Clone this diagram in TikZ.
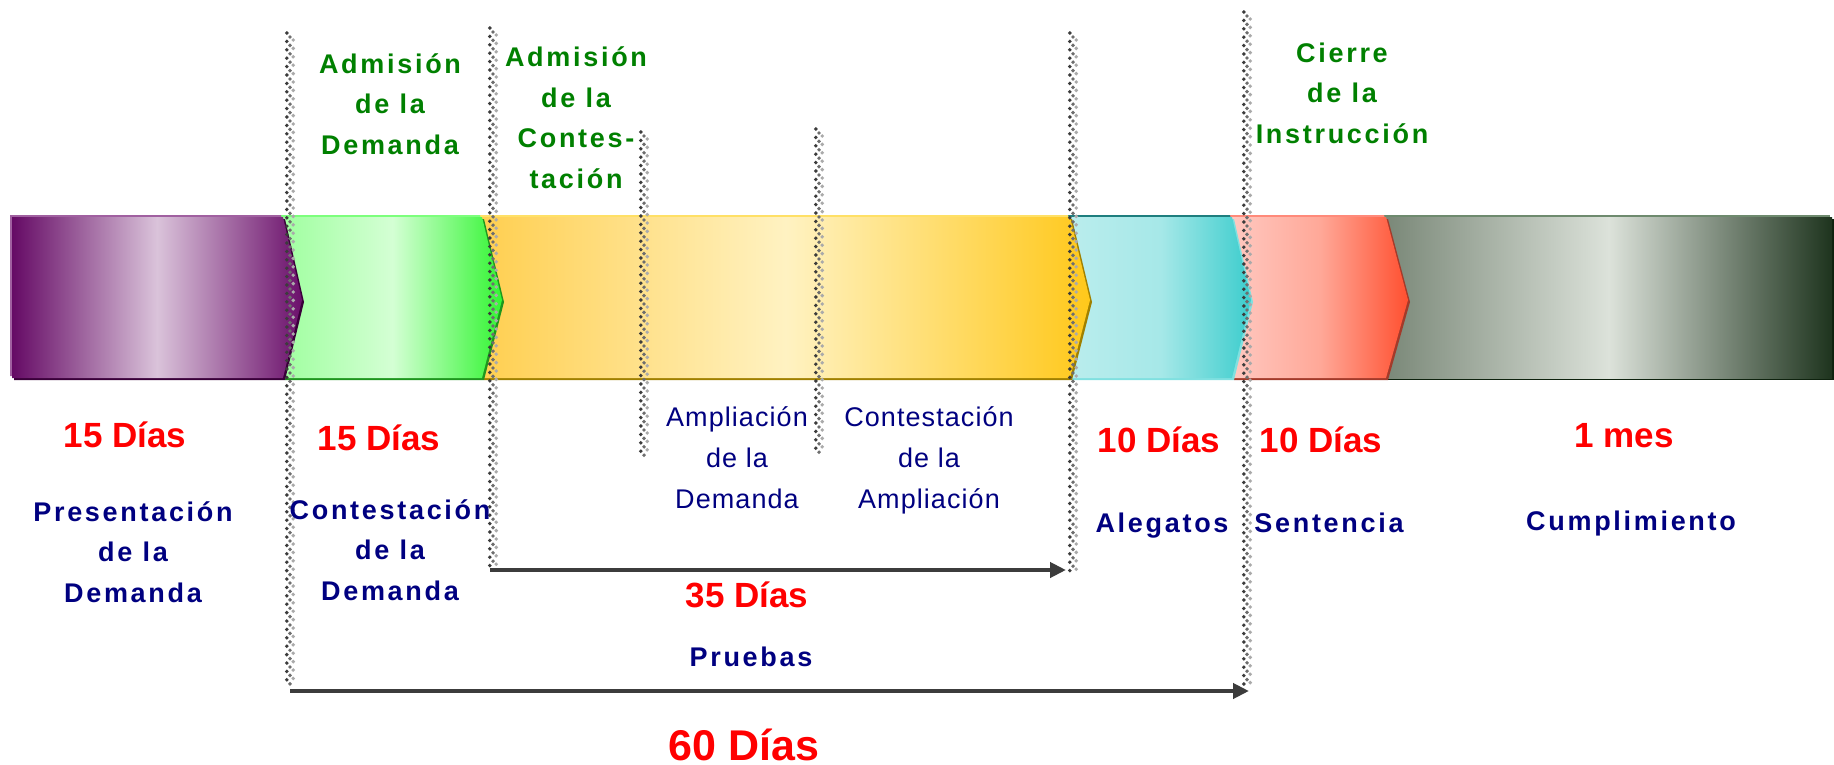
\documentclass[tikz,border=0pt]{standalone}
\usepackage{fontspec}
\setmainfont{Liberation Sans}
\newfontfamily\spacedfont[LetterSpace=10]{Liberation Sans}
\newfontfamily\lightspacedfont[LetterSpace=4]{Liberation Sans}
\usetikzlibrary{arrows.meta}
\definecolor{redT}{RGB}{255,0,0}
\definecolor{navyT}{RGB}{0,0,128}
\definecolor{greenT}{RGB}{0,128,0}
\definecolor{ropeD}{RGB}{60,60,60}
\definecolor{ropeM}{RGB}{110,110,110}
\definecolor{ropeL}{RGB}{170,170,170}
\definecolor{arrowC}{RGB}{60,60,60}
% segment colours: light edge, dark edge, left, middle, right
\definecolor{gyL}{RGB}{110,138,110}\definecolor{gyD}{RGB}{14,34,14}
\definecolor{gyA}{RGB}{122,136,120}\definecolor{gyB}{RGB}{220,226,218}\definecolor{gyC}{RGB}{30,52,30}
\definecolor{rdL}{RGB}{255,138,122}\definecolor{rdD}{RGB}{163,58,42}
\definecolor{rdA}{RGB}{255,200,192}\definecolor{rdB}{RGB}{255,168,152}\definecolor{rdC}{RGB}{255,80,48}
\definecolor{cyL}{RGB}{30,126,126}\definecolor{cyD}{RGB}{128,224,224}
\definecolor{cyA}{RGB}{186,237,237}\definecolor{cyB}{RGB}{166,232,232}\definecolor{cyC}{RGB}{60,205,205}
\definecolor{ywL}{RGB}{255,224,102}\definecolor{ywD}{RGB}{160,128,0}
\definecolor{ywA}{RGB}{255,207,80}\definecolor{ywB}{RGB}{255,242,194}\definecolor{ywC}{RGB}{255,200,26}
\definecolor{gnL}{RGB}{124,255,124}\definecolor{gnD}{RGB}{30,150,30}
\definecolor{gnA}{RGB}{160,255,160}\definecolor{gnB}{RGB}{212,255,212}\definecolor{gnC}{RGB}{51,245,51}
\definecolor{ppL}{RGB}{160,96,160}\definecolor{ppD}{RGB}{58,0,58}
\definecolor{ppA}{RGB}{101,10,101}\definecolor{ppB}{RGB}{218,195,218}\definecolor{ppC}{RGB}{107,16,107}
\newcommand\chevseg[4]{% #1 left x, #2 shoulder x, #3 tip x, #4 colour prefix
  \fill[#4L] (#1,215) -- (#2,215) -- (#3,298) -- (#2,376) -- (#1,376) -- cycle;
  \begin{scope}[shift={(4,4)}]
    \fill[#4D] (#1,215) -- (#2,215) -- (#3,298) -- (#2,376) -- (#1,376) -- cycle;
  \end{scope}
  \begin{scope}[shift={(2,2)}]
    \path[left color=#4A, right color=#4C, middle color=#4B] (#1,215) -- (#2,215) -- (#3,298) -- (#2,376) -- (#1,376) -- cycle;
  \end{scope}
}
\newcommand\ropeline[3]{%
  \draw[ropedark] (#1-3.2,#2) -- (#1-3.2,#3);
  \draw[ropemid] (#1,#2) -- (#1,#3);
  \draw[ropelight] (#1+3.2,#2) -- (#1+3.2,#3);
}
\tikzset{
  ropedot/.style={line width=3.9, line cap=round, dash pattern=on 0pt off 8.4pt},
  ropedark/.style={ropedot, draw=ropeD},
  ropemid/.style={ropedot, draw=ropeM, dash phase=4.4pt},
  ropelight/.style={ropedot, draw=ropeL, dash phase=1.4pt},
  spanarrow/.style={draw=arrowC, line width=4, -{Triangle[length=16pt,width=15pt]}},
  daystxt/.style={text=redT, font=\bfseries\fontsize{35}{42}\selectfont, anchor=base, inner sep=0pt},
  bigdaystxt/.style={text=redT, font=\bfseries\fontsize{43}{50}\selectfont, anchor=base, inner sep=0pt},
  phasetxt/.style={text=navyT, font=\spacedfont\bfseries\fontsize{27}{40.5}\selectfont, align=center, anchor=base, inner sep=0pt},
  subtxt/.style={text=navyT, font=\lightspacedfont\fontsize{27}{41}\selectfont, align=center, anchor=base, inner sep=0pt},
  eventtxt/.style={text=greenT, font=\spacedfont\bfseries\fontsize{27}{40.5}\selectfont, align=center, anchor=base, inner sep=0pt},
}
\begin{document}
\begin{tikzpicture}[x=1pt,y=-1pt]
\useasboundingbox[fill=white] (0,0) rectangle (1834,765);
% bar segments, right to left
\fill[gyL] (1384,215) rectangle (1830,376);
\fill[gyD] (1388,219) rectangle (1834,380);
\path[left color=gyA, right color=gyC, middle color=gyB] (1386,217) rectangle (1832,378);
\chevseg{1230}{1384}{1406}{rd}
\chevseg{1068}{1230}{1249}{cy}
\chevseg{480}{1068}{1088}{yw}
\chevseg{281}{480}{500}{gn}
\chevseg{10}{281}{300}{pp}
% dotted separators
\ropeline{290}{33}{684}
\ropeline{493}{28}{567}
\ropeline{644}{132}{458}
\ropeline{819}{129}{455}
\ropeline{1073}{33}{573}
\ropeline{1247}{12}{684}
% span arrows
\coordinate (s35) at (490,570);
\coordinate (e35) at (1066,570);
\coordinate (s60) at (290,691);
\coordinate (e60) at (1249,691);
\draw[spanarrow] (s35) -- (e35);
\draw[spanarrow] (s60) -- (e60);
% event labels (top); multi-line nodes sit on the baseline of their last line
\node[eventtxt] (admdem) at (390,154) {Admisión\\de la\\Demanda};
\node[eventtxt] (admcon) at (576,188) {Admisión\\de la\\Contes-\\tación};
\node[eventtxt] (cierre) at (1342,143) {Cierre\\de la\\Instrucción};
% durations
\node[daystxt] (d1) at (125,447) {15 Días};
\node[daystxt] (d2) at (379,450) {15 Días};
\node[daystxt] (d4) at (1159,452) {10 Días};
\node[daystxt] (d5) at (1321,452) {10 Días};
\node[daystxt] (d6) at (1624,447) {1 mes};
\node[daystxt] (d35) at (747,607) {35 Días};
\node[bigdaystxt] (d60) at (744,760) {60 Días};
% phases
\node[phasetxt] (p1) at (133,602) {Presentación\\de la\\Demanda};
\node[phasetxt] (p2) at (390,600) {Contestación\\de la\\Demanda};
\node[phasetxt] (p4) at (1162,532) {Alegatos};
\node[phasetxt] (p5) at (1329,532) {Sentencia};
\node[phasetxt] (p6) at (1631,530) {Cumplimiento};
\node[phasetxt] (pr) at (751,666) {Pruebas};
\node[subtxt] (amp) at (737,508) {Ampliación\\de la\\Demanda};
\node[subtxt] (camp) at (929,508) {Contestación\\de la\\Ampliación};
\end{tikzpicture}
\end{document}
